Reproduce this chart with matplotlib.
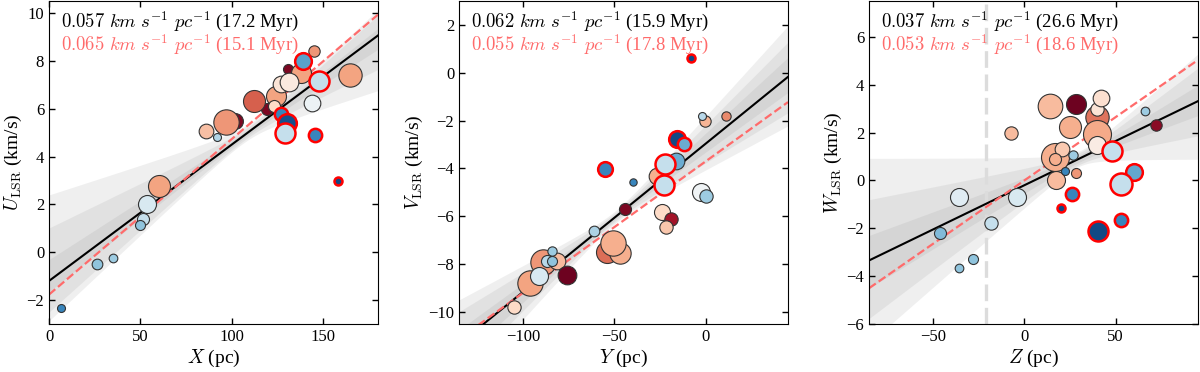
import numpy as np
import matplotlib
matplotlib.use("Agg")
import matplotlib.pyplot as plt
from matplotlib.ticker import MultipleLocator

plt.rcParams['font.family'] = 'serif'
plt.rcParams['font.serif'] = ['Liberation Serif', 'DejaVu Serif']
plt.rcParams['mathtext.fontset'] = 'cm'
plt.rcParams['axes.unicode_minus'] = True

# ---------------- data (listed back to front; flag 1 = red-edged subset) ----------------
# Panel 1: X vs U_LSR
p1_x = [60, 53.5, 51.5, 50, 26, 35, 6.5, 102, 97, 86, 92, 119, 112, 124, 123, 131, 138, 127,
        131.5, 145, 164.5, 144, 147,
        139, 147.5, 127, 130, 129, 145.5, 158]
p1_y = [2.75, 2.0, 1.4, 1.12, -0.5, -0.25, -2.35, 5.5, 5.43, 5.05, 4.82, 6.0, 6.3, 6.55, 6.1, 7.65, 7.5, 7.05,
        7.1, 8.42, 7.42, 6.24, 7.0,
        8.0, 7.17, 5.78, 5.4, 5.0, 4.9, 2.97]
p1_s = [251, 168, 75, 52, 59, 39, 33, 130, 333, 112, 33, 75, 251, 207, 75, 52, 207, 144,
        181, 67, 282, 144, 67,
        144, 207, 92, 181, 207, 92, 33]
p1_c = [0.70, 0.42, 0.38, 0.30, 0.30, 0.32, 0.17, 0.97, 0.72, 0.65, 0.35, 0.97, 0.80, 0.70, 0.60, 0.97, 0.70, 0.57,
        0.55, 0.72, 0.70, 0.47, 0.30,
        0.23, 0.38, 0.17, 0.06, 0.38, 0.17, 0.05]
p1_f = [0, 0, 0, 0, 0, 0, 0, 0, 0, 0, 0, 0, 0, 0, 0, 0, 0, 0,
        0, 0, 0, 0, 0,
        1, 1, 1, 1, 1, 1, 1]

# Panel 2: Y vs V_LSR
p2_x = [-89, -96, -91, -81.5, -76, -87, -84, -84, -105, -54, -47, -50.5, -61, -44, -40,
        -26.5, -16.5, -24, -19, -22, -2.4, 0, -0.5, -2, 11,
        -8, -16, -12, -22.5, -23, -55]
p2_y = [-7.9, -8.8, -8.5, -7.85, -8.45, -7.85, -7.85, -7.45, -9.8, -7.5, -7.55, -7.1, -6.6, -5.7, -4.55,
        -4.3, -3.7, -5.82, -6.1, -6.45, -5.0, -5.15, -2.0, -1.8, -1.82,
        0.6, -2.76, -2.97, -3.8, -4.7, -4.02]
p2_s = [333, 333, 168, 144, 181, 75, 52, 45, 92, 251, 236, 333, 59, 75, 28,
        144, 144, 133, 92, 92, 168, 92, 67, 33, 45,
        33, 144, 92, 207, 207, 112]
p2_c = [0.72, 0.70, 0.42, 0.66, 0.99, 0.36, 0.30, 0.32, 0.60, 0.78, 0.68, 0.68, 0.34, 0.97, 0.17,
        0.68, 0.25, 0.60, 0.92, 0.64, 0.48, 0.32, 0.67, 0.36, 0.74,
        0.05, 0.05, 0.25, 0.38, 0.38, 0.17]
p2_f = [0, 0, 0, 0, 0, 0, 0, 0, 0, 0, 0, 0, 0, 0, 0,
        0, 0, 0, 0, 0, 0, 0, 0, 0, 0,
        1, 1, 1, 1, 1, 1]

# Panel 3: Z vs W_LSR
p3_x = [14, 28.5, 25, 40, 40, 40, 40, 42, 16.5, 17.5, 20.5, 17, 26.5, 22.5, 28.5, -7.5, 66, 72,
        -4, -36, -18, -46, -28, -36,
        48, 60, 53, 26, 20, 53, 40.5]
p3_y = [3.12, 3.2, 2.25, 2.65, 1.95, 1.5, 2.98, 3.45, 1.0, 0.0, 1.32, 0.9, 1.08, 0.4, 0.3, 1.98, 2.9, 2.3,
        -0.68, -0.68, -1.78, -2.2, -3.28, -3.65,
        1.25, 0.35, -0.15, -0.55, -1.15, -1.65, -2.1]
p3_s = [315, 207, 251, 282, 406, 168, 92, 144, 406, 168, 112, 75, 45, 33, 52, 92, 39, 67,
        168, 168, 92, 75, 52, 39,
        207, 144, 251, 92, 33, 92, 207]
p3_c = [0.66, 0.99, 0.68, 0.77, 0.69, 0.54, 0.57, 0.58, 0.68, 0.66, 0.63, 0.68, 0.32, 0.17, 0.72, 0.66, 0.32, 0.95,
        0.42, 0.44, 0.38, 0.28, 0.30, 0.30,
        0.38, 0.24, 0.38, 0.17, 0.05, 0.17, 0.05]
p3_f = [0, 0, 0, 0, 0, 0, 0, 0, 0, 0, 0, 0, 0, 0, 0, 0, 0, 0,
        0, 0, 0, 0, 0, 0,
        1, 1, 1, 1, 1, 1, 1]

# Linear fits: slope, intercept (black = all, red = subset)
fit_black = [(0.057, -1.2), (0.062, -2.96), (0.037, -0.2)]
fit_red = [(0.065, -1.77), (0.055, -3.7), (0.053, 0.0)]
# Uncertainty bands: pivot position, band (slope_lo, slope_hi, width at pivot)
band_pivot = [110, -50, 30]
band_par = [
    [(0.049, 0.061, 0.12), (0.037, 0.0687, 0.22), (0.0245, 0.072, 0.32)],
    [(0.0552, 0.0705, 0.10), (0.0463, 0.0772, 0.18), (0.0406, 0.0843, 0.26)],
    [(0.028, 0.047, 0.15), (0.015, 0.058, 0.25), (0.0, 0.067, 0.32)],
]
label_black = [r"$0.057\ km\ s^{-1}\ pc^{-1}$ (17.2 Myr)",
               r"$0.062\ km\ s^{-1}\ pc^{-1}$ (15.9 Myr)",
               r"$0.037\ km\ s^{-1}\ pc^{-1}$ (26.6 Myr)"]
label_red = [r"$0.065\ km\ s^{-1}\ pc^{-1}$ (15.1 Myr)",
             r"$0.055\ km\ s^{-1}\ pc^{-1}$ (17.8 Myr)",
             r"$0.053\ km\ s^{-1}\ pc^{-1}$ (18.6 Myr)"]
xlabels = [r"$X$ (pc)", r"$Y$ (pc)", r"$Z$ (pc)"]
ylabels = [r"$U_{\rm LSR}$ (km/s)", r"$V_{\rm LSR}$ (km/s)", r"$W_{\rm LSR}$ (km/s)"]
xlims = [(0, 180), (-135, 45), (-85, 95)]
ylims = [(-3, 10.5), (-10.5, 3), (-6, 7.5)]
ymajor = [2, 2, 2]
xmajor = [50, 50, 50]
z_sun_line = -20.8

# ---------------- plot ----------------
fig = plt.figure(figsize=(12, 3.72), dpi=100)
lefts = [49 / 1200, 459 / 1200, 869 / 1200]
w = 329 / 1200
bottom = 48 / 372
h = 323 / 372
cmap = plt.get_cmap('RdBu_r')
red_col = '#ff6b6b'

panels = [(p1_x, p1_y, p1_s, p1_c, p1_f),
          (p2_x, p2_y, p2_s, p2_c, p2_f),
          (p3_x, p3_y, p3_s, p3_c, p3_f)]

for i in range(3):
    ax = fig.add_axes([lefts[i], bottom, w, h])
    xs = np.linspace(xlims[i][0], xlims[i][1], 300)
    sb, ib = fit_black[i]
    sr, ir = fit_red[i]
    x0 = band_pivot[i]
    c0 = sb * x0 + ib
    for lo, hi, e in band_par[i]:
        dx = xs - x0
        mid = 0.5 * (lo + hi)
        half = 0.5 * (hi - lo)
        spread = np.sqrt(e ** 2 + (half * dx) ** 2)
        ax.fill_between(xs, c0 + mid * dx - spread, c0 + mid * dx + spread,
                        color='gray', alpha=0.12, lw=0, zorder=1)
    if i == 2:
        ax.axvline(z_sun_line, color='#dcdcdc', lw=2.4, ls=(0, (5, 2)), zorder=1.5)
    ax.plot(xs, sb * xs + ib, color='black', lw=1.5, zorder=2)
    ax.plot(xs, sr * xs + ir, color=red_col, lw=1.6, ls='--', zorder=2.1)

    x, y, s, c, f = [np.asarray(a, dtype=float) for a in panels[i]]
    z = 3.0
    for k in range(len(x)):
        if f[k] == 1:
            ec, lw = 'red', 1.8
        else:
            ec, lw = '#333333', 0.8
        ax.scatter([x[k]], [y[k]], s=s[k], color=cmap(c[k]),
                   edgecolors=ec, linewidths=lw, zorder=z)
        z += 0.01

    ax.set_xlim(*xlims[i])
    ax.set_ylim(*ylims[i])
    ax.xaxis.set_major_locator(MultipleLocator(xmajor[i]))
    ax.yaxis.set_major_locator(MultipleLocator(ymajor[i]))
    ax.tick_params(direction='in', top=True, right=True, length=4, width=1, labelsize=12)
    ax.set_xlabel(xlabels[i], fontsize=14, labelpad=2)
    ax.set_ylabel(ylabels[i], fontsize=14, labelpad=2)
    ax.text(0.035, 0.935, label_black[i], transform=ax.transAxes, fontsize=13.5,
            color='black', va='center', ha='left', zorder=10)
    ax.text(0.035, 0.865, label_red[i], transform=ax.transAxes, fontsize=13.5,
            color=red_col, va='center', ha='left', zorder=10)

fig.savefig('out.png', dpi=100)
